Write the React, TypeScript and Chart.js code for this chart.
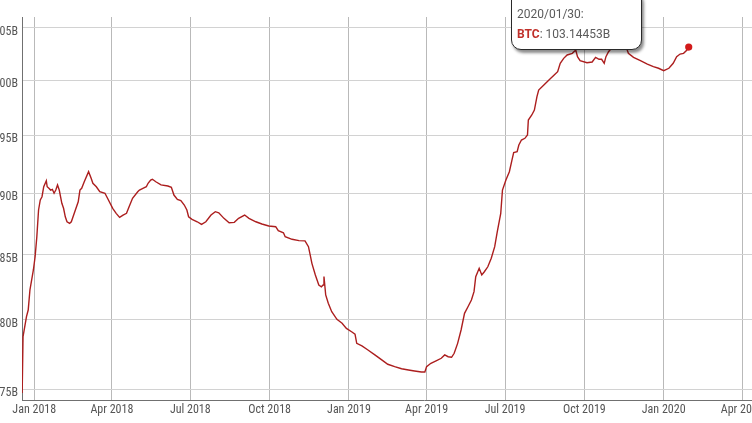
import React, { useEffect, useRef } from 'react';
import { Chart, registerables } from 'chart.js';

Chart.register(...registerables);

// Days since 2018-01-01
const days = [
  -14, -13, -9, -7, -5, -1, 1, 3, 5, 7, 9, 11, 14, 15, 17, 19, 21, 23, 25, 27, 29, 32, 34, 36, 38,
  41, 43, 47, 51, 53, 55, 58, 63, 66, 68, 72, 76, 82, 85, 91, 95, 99, 103, 107, 110, 114, 120, 122,
  126, 130, 132, 135, 137, 141, 147, 155, 159, 162, 166, 170, 174, 177, 179, 183, 189, 194, 199,
  205, 210, 214, 220, 226, 232, 237, 244, 249, 257, 264, 272, 280, 283, 289, 291, 299, 307, 314,
  318, 320, 322, 326, 330, 333, 335, 336, 338, 341, 345, 351, 357, 362, 368, 372, 374, 380, 387,
  395, 403, 410, 418, 426, 434, 441, 449, 453, 455, 460, 466, 472, 476, 480, 484, 487, 491, 495,
  499, 503, 507, 510, 512, 516, 519, 522, 526, 530, 534, 537, 541, 543, 547, 551, 554, 556, 560,
  562, 565, 569, 572, 573, 577, 580, 583, 585, 591, 599, 603, 607, 610, 614, 618, 624, 628, 630,
  633, 641, 647, 651, 655, 658, 661, 663, 666, 670, 675, 680, 685, 687, 689, 695, 703, 711, 718,
  724, 730, 736, 741, 745, 749, 753, 757, 759,
];

// BTC series, in billions
const supplyB = [
  74.72, 78.75, 80.23, 80.73, 82.25, 83.8, 84.84, 86.44, 88.62, 89.45, 89.72, 90.56, 91.07, 90.56,
  90.43, 90.28, 90.34, 90.01, 90.28, 90.71, 90.28, 89.17, 88.76, 88.06, 87.65, 87.52, 87.65, 88.48,
  89.3, 90.28, 90.43, 90.98, 91.84, 91.27, 90.85, 90.56, 90.14, 90.01, 89.59, 88.76, 88.34, 88.01,
  88.2, 88.34, 88.89, 89.59, 90.14, 90.28, 90.43, 90.56, 90.85, 91.13, 91.19, 90.98, 90.71, 90.62,
  90.51, 89.86, 89.5, 89.39, 89.03, 88.62, 88.06, 87.85, 87.65, 87.44, 87.65, 88.2, 88.48, 88.39,
  87.93, 87.57, 87.6, 87.93, 88.2, 87.93, 87.65, 87.47, 87.31, 87.25, 86.92, 86.76, 86.44, 86.23,
  86.12, 86.1, 85.64, 84.98, 84.32, 83.41, 82.63, 82.5, 82.63, 83.29, 81.87, 81.24, 80.6, 80.03,
  79.74, 79.36, 79.11, 78.94, 78.26, 78.07, 77.78, 77.42, 77.06, 76.75, 76.58, 76.43, 76.34, 76.27,
  76.2, 76.2, 76.58, 76.82, 77.0, 77.18, 77.42, 77.29, 77.25, 77.54, 78.26, 79.24, 80.48, 80.98,
  81.49, 82.12, 83.27, 83.93, 83.41, 83.66, 84.05, 84.72, 85.64, 86.84, 88.34, 90.28, 91.13, 91.84,
  92.84, 93.48, 93.56, 94.15, 94.59, 94.74, 95.03, 96.37, 96.82, 97.27, 98.49, 99.1, 99.57, 100.19,
  100.5, 100.81, 101.6, 102.07, 102.39, 102.55, 102.87, 102.23, 101.85, 101.66, 101.72, 102.17,
  101.98, 101.98, 101.6, 102.23, 102.7, 103.1, 103.4, 103.3, 103.2, 103.03, 102.55, 102.17, 101.85,
  101.53, 101.28, 101.13, 100.9, 101.13, 101.6, 102.23, 102.48, 102.55, 102.87, 103.14453,
];

const yTickValues = [75, 80, 85, 90, 95, 100, 105];
const xTickDays = [0, 90, 181, 273, 365, 455, 546, 638, 730, 821];
const xTickLabels = [
  'Jan 2018', 'Apr 2018', 'Jul 2018', 'Oct 2018', 'Jan 2019',
  'Apr 2019', 'Jul 2019', 'Oct 2019', 'Jan 2020', 'Apr 2020',
];
const seriesName = 'BTC';
const tooltipDate = '2020/01/30:';
const tooltipValue = '103.14453B';

const X_MIN = -14.2;
const X_MAX = 918.2;
const Y_MIN = 74.236;
const Y_MAX = 106.08;

const TICK_FONT = '"Liberation Sans Narrow", "Roboto Condensed", Roboto, sans-serif';

export default function App() {
  const canvasRef = useRef<HTMLCanvasElement | null>(null);

  useEffect(() => {
    const canvas = canvasRef.current;
    if (!canvas) return;
    const points = days.map((d, i) => ({ x: d, y: supplyB[i] }));
    const last = points.length - 1;
    const chart = new Chart(canvas, {
      type: 'line',
      data: {
        datasets: [
          {
            label: seriesName,
            data: points,
            borderColor: 'rgb(172,30,30)',
            borderWidth: 1.4,
            pointRadius: (ctx: any) => (ctx.dataIndex === last ? 3.6 : 0),
            pointBackgroundColor: '#d21a1a',
            pointBorderWidth: 0,
            tension: 0,
            fill: false,
          },
        ],
      },
      options: {
        animation: false,
        responsive: false,
        devicePixelRatio: 1,
        layout: { padding: { top: 17, left: 0, right: 0, bottom: 0 } },
        plugins: {
          legend: { display: false },
          tooltip: { enabled: false },
        },
        events: [],
        scales: {
          x: {
            type: 'linear',
            min: X_MIN,
            max: X_MAX,
            bounds: 'data',
            afterFit: (s: any) => {
              s.height = 23;
            },
            afterBuildTicks: (s: any) => {
              s.ticks = xTickDays.map((v) => ({ value: v }));
            },
            ticks: {
              autoSkip: false,
              maxRotation: 0,
              padding: 3,
              color: '#555',
              font: { size: 12, family: TICK_FONT },
              callback: (v: any) => {
                const i = xTickDays.indexOf(Number(v));
                return i >= 0 ? xTickLabels[i] : '';
              },
            },
            grid: { color: '#b9b9b9', lineWidth: 1, drawTicks: false },
            border: { display: true, color: '#707070', width: 1 },
          },
          y: {
            type: 'logarithmic',
            min: Y_MIN,
            max: Y_MAX,
            bounds: 'data',
            afterFit: (s: any) => {
              s.width = 52;
            },
            afterBuildTicks: (s: any) => {
              s.ticks = yTickValues.map((v) => ({ value: v }));
            },
            ticks: {
              autoSkip: false,
              padding: 4,
              labelOffset: 4,
              color: '#555',
              font: { size: 12, family: TICK_FONT },
              callback: (v: any) => `${v}B`,
            },
            grid: { color: '#d2d2d2', lineWidth: 1, drawTicks: false },
            border: { display: true, color: '#707070', width: 1 },
          },
        },
      },
    });
    return () => chart.destroy();
  }, []);

  return (
    <div
      style={{
        position: 'fixed',
        left: 0,
        top: 0,
        width: 752,
        height: 423,
        overflow: 'hidden',
        background: '#fff',
      }}
    >
      <canvas
        ref={canvasRef}
        width={860}
        height={423}
        style={{ position: 'absolute', left: -30, top: 0, width: 860, height: 423 }}
      />
      <div
        style={{
          position: 'absolute',
          left: 511,
          top: -10,
          width: 131,
          height: 60,
          boxSizing: 'border-box',
          background: '#fff',
          border: '1.5px solid #2a2a2a',
          borderRadius: 10,
          boxShadow: '2px 3px 3px rgba(0,0,0,0.45)',
          fontFamily: 'Roboto, sans-serif',
          fontSize: 12,
          color: '#5a5a5a',
        }}
      >
        <div style={{ position: 'absolute', left: 5, top: 16, lineHeight: '14px', whiteSpace: 'nowrap' }}>
          {tooltipDate}
        </div>
        <div style={{ position: 'absolute', left: 5, top: 36, lineHeight: '14px', whiteSpace: 'nowrap' }}>
          <span style={{ color: '#c0302a', fontWeight: 'bold' }}>{seriesName}</span>: {tooltipValue}
        </div>
      </div>
    </div>
  );
}
